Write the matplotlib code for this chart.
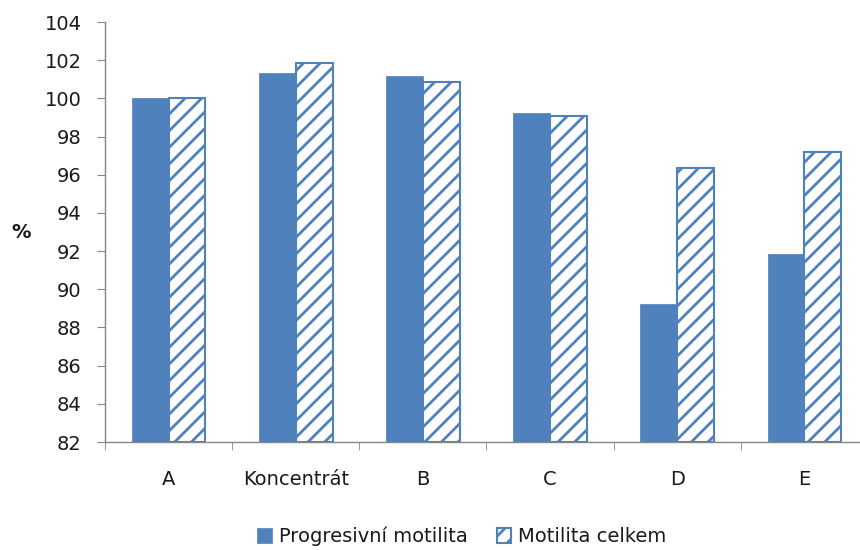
import matplotlib.pyplot as plt
import numpy as np

plt.rcParams['font.family'] = ['DejaVu Sans']
plt.rcParams['hatch.linewidth'] = 2.0
plt.rcParams['hatch.color'] = '#4F81BD'

categories = ['A', 'Koncentrát', 'B', 'C', 'D', 'E']
progresivni = [100.0, 101.31, 101.17, 99.22, 89.21, 91.85]
celkem = [100.0, 101.83, 100.87, 99.08, 96.34, 97.18]

blue = '#4F81BD'
axis_grey = '#868686'
text_col = '#1a1a1a'
fs = 14

fig = plt.figure(figsize=(8.6, 5.5), dpi=100)
ax = fig.add_axes([105 / 860, 108 / 550, 763 / 860, 420 / 550])

x = np.arange(len(categories))
w = 0.29
ax.bar(x - w / 2, [v - 82 for v in progresivni], w, bottom=82, color=blue,
       edgecolor=blue, linewidth=0.5, label='Progresivní motilita')
ax.bar(x + w / 2, [v - 82 for v in celkem], w, bottom=82, color='white',
       edgecolor=blue, linewidth=1.5, hatch='//', label='Motilita celkem')

ax.set_xlim(-0.5, len(categories) - 0.5)
ax.set_ylim(82, 104)
ax.set_yticks(np.arange(82, 105, 2))
ax.set_xticks(x)
ax.set_xticklabels(categories, fontsize=fs, color=text_col)
ax.set_xticks(np.arange(-0.5, len(categories), 1), minor=True)
ax.tick_params(axis='x', which='major', length=0, pad=20)
ax.tick_params(axis='x', which='minor', length=6, color=axis_grey)
ax.tick_params(axis='y', labelsize=fs, labelcolor=text_col, length=6,
               color=axis_grey, pad=11)

for side in ['top', 'right']:
    ax.spines[side].set_visible(False)
for side in ['left', 'bottom']:
    ax.spines[side].set_color(axis_grey)
    ax.spines[side].set_linewidth(1.0)

ax.set_ylabel('%', rotation=0, fontsize=fs, fontweight='bold', labelpad=17,
              va='center', color=text_col)

fig.legend(loc='lower center', bbox_to_anchor=(0.537, -0.025), ncol=2,
           frameon=False, fontsize=fs, handlelength=0.75, handleheight=0.75,
           handletextpad=0.35, columnspacing=1.5, labelcolor=text_col)

fig.savefig('out.png', dpi=100)
